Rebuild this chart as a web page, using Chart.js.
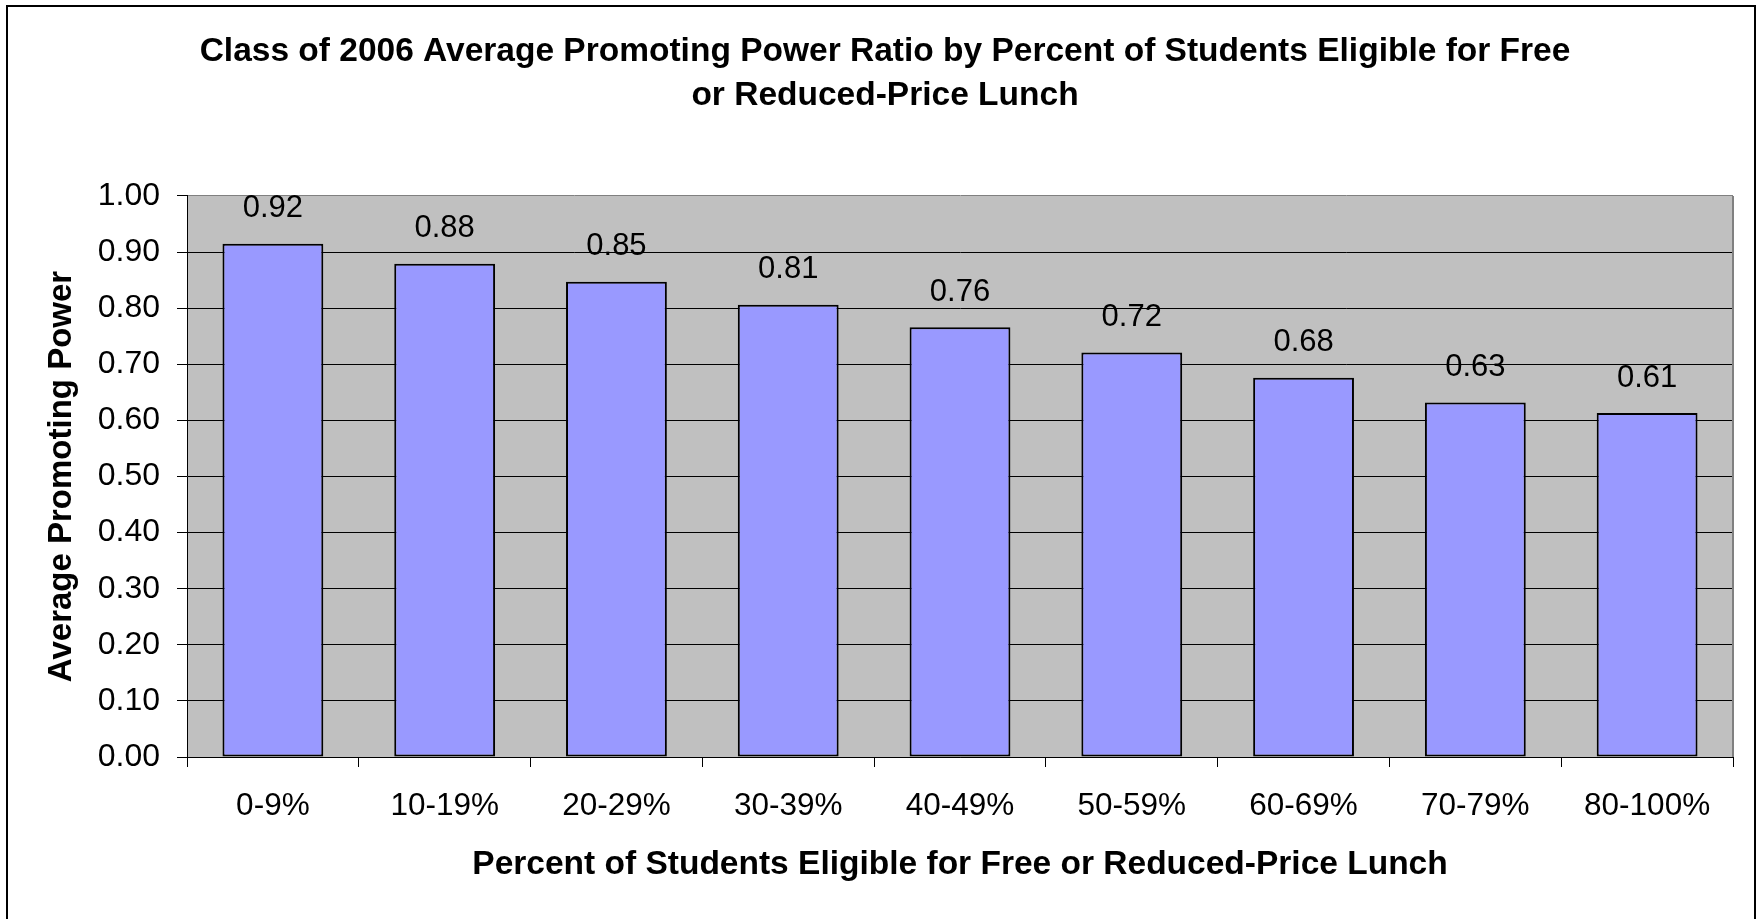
<!DOCTYPE html>
<html><head><meta charset="utf-8">
<script src="https://cdn.jsdelivr.net/npm/chart.js@4.4.1/dist/chart.umd.min.js"></script>
<style>html,body{margin:0;padding:0;background:#fff;overflow:hidden;} canvas{display:block;}</style>
</head><body>
<canvas id="c" width="1763" height="919"></canvas>
<script>
const categories = ['0-9%', '10-19%', '20-29%', '30-39%', '40-49%', '50-59%', '60-69%', '70-79%', '80-100%'];
const promotingPower = [0.915, 0.879, 0.847, 0.806, 0.766, 0.721, 0.676, 0.632, 0.613];
const valueLabels = ['0.92', '0.88', '0.85', '0.81', '0.76', '0.72', '0.68', '0.63', '0.61'];
const yTickLabels = ['0.00', '0.10', '0.20', '0.30', '0.40', '0.50', '0.60', '0.70', '0.80', '0.90', '1.00'];
const titleLines = ['Class of 2006 Average Promoting Power Ratio by Percent of Students Eligible for Free', 'or Reduced-Price Lunch'];
const xTitle = 'Percent of Students Eligible for Free or Reduced-Price Lunch';
const yTitle = 'Average Promoting Power';

const FAMILY = '"Liberation Sans", Arial, sans-serif';

const framePlugin = {
  id: 'frame',
  beforeDraw(chart) {
    const {ctx, chartArea: a} = chart;
    ctx.save();
    ctx.fillStyle = '#ffffff';
    ctx.fillRect(0, 0, chart.width, chart.height);
    ctx.fillStyle = '#C0C0C0';
    ctx.fillRect(a.left, a.top, a.right - a.left, a.bottom - a.top);
    ctx.restore();
  },
  beforeDatasetsDraw(chart) {
    const {ctx, chartArea: a} = chart;
    ctx.save();
    ctx.strokeStyle = '#808080';
    ctx.lineWidth = 2;
    ctx.beginPath();
    ctx.moveTo(a.right, a.top);
    ctx.lineTo(a.right, a.bottom);
    ctx.stroke();
    ctx.restore();
  },
  afterDraw(chart) {
    const {ctx} = chart;
    ctx.save();
    ctx.strokeStyle = '#000';
    ctx.lineWidth = 2;
    ctx.strokeRect(7, 6, 1748, 930);
    ctx.restore();
  }
};

const valueLabelPlugin = {
  id: 'valueLabels',
  afterDatasetsDraw(chart) {
    const {ctx} = chart;
    const meta = chart.getDatasetMeta(0);
    ctx.save();
    ctx.font = '31px ' + FAMILY;
    ctx.fillStyle = '#000';
    ctx.textAlign = 'center';
    ctx.textBaseline = 'middle';
    meta.data.forEach((bar, i) => {
      ctx.fillText(valueLabels[i], bar.x, bar.y - 35);
    });
    ctx.restore();
  }
};

new Chart(document.getElementById('c'), {
  type: 'bar',
  data: {
    labels: categories,
    datasets: [{
      data: promotingPower,
      backgroundColor: '#9999FF',
      borderColor: '#000000',
      borderWidth: 2,
      borderSkipped: false,
      categoryPercentage: 1,
      barPercentage: 0.587
    }]
  },
  options: {
    responsive: false,
    animation: false,
    devicePixelRatio: 1,
    layout: {padding: {left: 37, right: 30, top: 30, bottom: 0}},
    plugins: {
      legend: {display: false},
      tooltip: {enabled: false},
      title: {
        display: true,
        text: titleLines,
        color: '#000',
        font: {family: FAMILY, size: 33.5, weight: 'bold', lineHeight: 1.313},
        padding: {top: 0, bottom: 78}
      }
    },
    scales: {
      x: {
        grid: {display: true, drawOnChartArea: false, drawTicks: true, tickLength: 10, tickColor: '#000', offset: true, lineWidth: 1},
        border: {display: true, color: '#000', width: 1},
        ticks: {font: {family: FAMILY, size: 31.5}, color: '#000', padding: 20, maxRotation: 0, autoSkip: false},
        title: {display: true, text: xTitle, color: '#000', font: {family: FAMILY, size: 33.5, weight: 'bold'}, padding: {top: 0, bottom: 34}},
        afterFit(s) { s.height = 162; }
      },
      y: {
        min: 0,
        max: 1,
        ticks: {stepSize: 0.1, callback: (v, i) => yTickLabels[i], font: {family: FAMILY, size: 32}, color: '#000', padding: 17},
        grid: {
          color: (c) => (c.tick && c.tick.value > 0.999) ? '#808080' : '#000',
          tickColor: '#000', tickLength: 10, lineWidth: 1
        },
        border: {display: true, color: '#000', width: 1},
        title: {display: true, text: yTitle, color: '#000', font: {family: FAMILY, size: 33, weight: 'bold'}, padding: {top: 5, bottom: 0}},
        afterFit(s) { s.width = 150; }
      }
    }
  },
  plugins: [framePlugin, valueLabelPlugin]
});
</script>
</body></html>
